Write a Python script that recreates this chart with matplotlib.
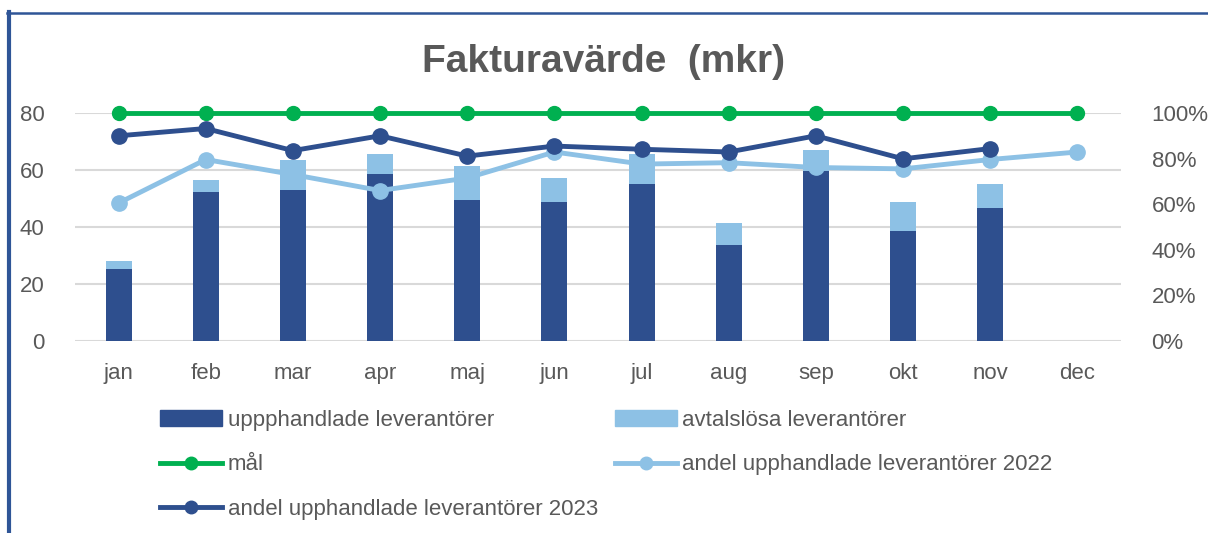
import matplotlib.pyplot as plt
from matplotlib.lines import Line2D
from matplotlib.patches import Patch
from matplotlib.ticker import PercentFormatter
import numpy as np

plt.rcParams['font.family'] = ['Liberation Sans', 'DejaVu Sans']

months = ['jan', 'feb', 'mar', 'apr', 'maj', 'jun', 'jul', 'aug', 'sep', 'okt', 'nov', 'dec']
upphandlade = [25.3, 52.2, 52.9, 58.5, 49.3, 48.6, 55.0, 33.8, 59.7, 38.7, 46.5, np.nan]
avtalslosa = [2.8, 4.2, 10.6, 7.1, 12.1, 8.5, 10.6, 7.7, 7.3, 9.9, 8.5, np.nan]
mal = [1.0] * 12
andel_2022 = [0.605, 0.796, 0.73, 0.66, 0.715, 0.829, 0.776, 0.782, 0.761, 0.755, 0.796, 0.829]
andel_2023 = [0.900, 0.932, 0.835, 0.900, 0.811, 0.855, 0.841, 0.829, 0.900, 0.799, 0.844, np.nan]

dark = '#2E4F8E'
light = '#8DC1E5'
green = '#00B050'
txt = '#595959'

fig = plt.figure(figsize=(12.08, 5.33), dpi=100)
ax = fig.add_axes([75 / 1208, 1 - 341 / 533, 1046 / 1208, 228 / 533])
x = np.arange(len(months))

ax.bar(x, upphandlade, width=0.3, color=dark, zorder=2)
ax.bar(x, avtalslosa, width=0.3, bottom=upphandlade, color=light, zorder=2)
ax.set_ylim(0, 80)
ax.set_xlim(-0.5, 11.5)
ax.set_yticks([0, 20, 40, 60, 80])
ax.set_xticks(x)
ax.set_xticklabels(months)
ax.yaxis.grid(True, color='#D9D9D9', linewidth=1.5, zorder=0)
ax.set_axisbelow(True)
for s in ax.spines.values():
    s.set_visible(False)
ax.tick_params(axis='both', length=0, labelsize=16, colors=txt)
ax.tick_params(axis='y', pad=22)
ax.tick_params(axis='x', pad=16)

ax2 = ax.twinx()
ax2.plot(x, mal, color=green, linewidth=3.5, marker='o', markersize=10, clip_on=False)
ax2.plot(x, andel_2022, color=light, linewidth=3.5, marker='o', markersize=11, clip_on=False)
ax2.plot(x, andel_2023, color=dark, linewidth=3.5, marker='o', markersize=11, clip_on=False)
ax2.set_ylim(0, 1)
ax2.set_yticks([0, 0.2, 0.4, 0.6, 0.8, 1.0])
ax2.yaxis.set_major_formatter(PercentFormatter(1.0, decimals=0))
for s in ax2.spines.values():
    s.set_visible(False)
ax2.tick_params(axis='y', length=0, labelsize=16, colors=txt, pad=22)

fig.text(0.5, 1 - 62 / 533, 'Fakturavärde  (mkr)', ha='center', va='center',
         fontsize=28, fontweight='bold', color=txt)

handles = [
    Patch(color=dark),
    Line2D([], [], color=green, linewidth=3.5, marker='o', markersize=9),
    Line2D([], [], color=dark, linewidth=3.5, marker='o', markersize=9),
    Patch(color=light),
    Line2D([], [], color=light, linewidth=3.5, marker='o', markersize=9),
]
labels = ['uppphandlade leverantörer', 'mål', 'andel upphandlade leverantörer 2023',
          'avtalslösa leverantörer', 'andel upphandlade leverantörer 2022']
leg = fig.legend(handles, labels, ncol=2, loc='upper left',
                 bbox_to_anchor=(160 / 1208, 1 - 410 / 533), frameon=False,
                 fontsize=16, handlelength=2.8, handletextpad=0.25,
                 columnspacing=0.75, labelspacing=1.05, borderpad=0, borderaxespad=0)
for t in leg.get_texts():
    t.set_color(txt)

# frame edges visible at top and left
fig.add_artist(Line2D([9 / 1208, 9 / 1208], [0, 1 - 12 / 533], color='#2F5597', linewidth=3))
fig.add_artist(Line2D([7 / 1208, 1], [1 - 13 / 533, 1 - 13 / 533], color='#2F5597', linewidth=1.8))

fig.savefig('out.png', dpi=100)
